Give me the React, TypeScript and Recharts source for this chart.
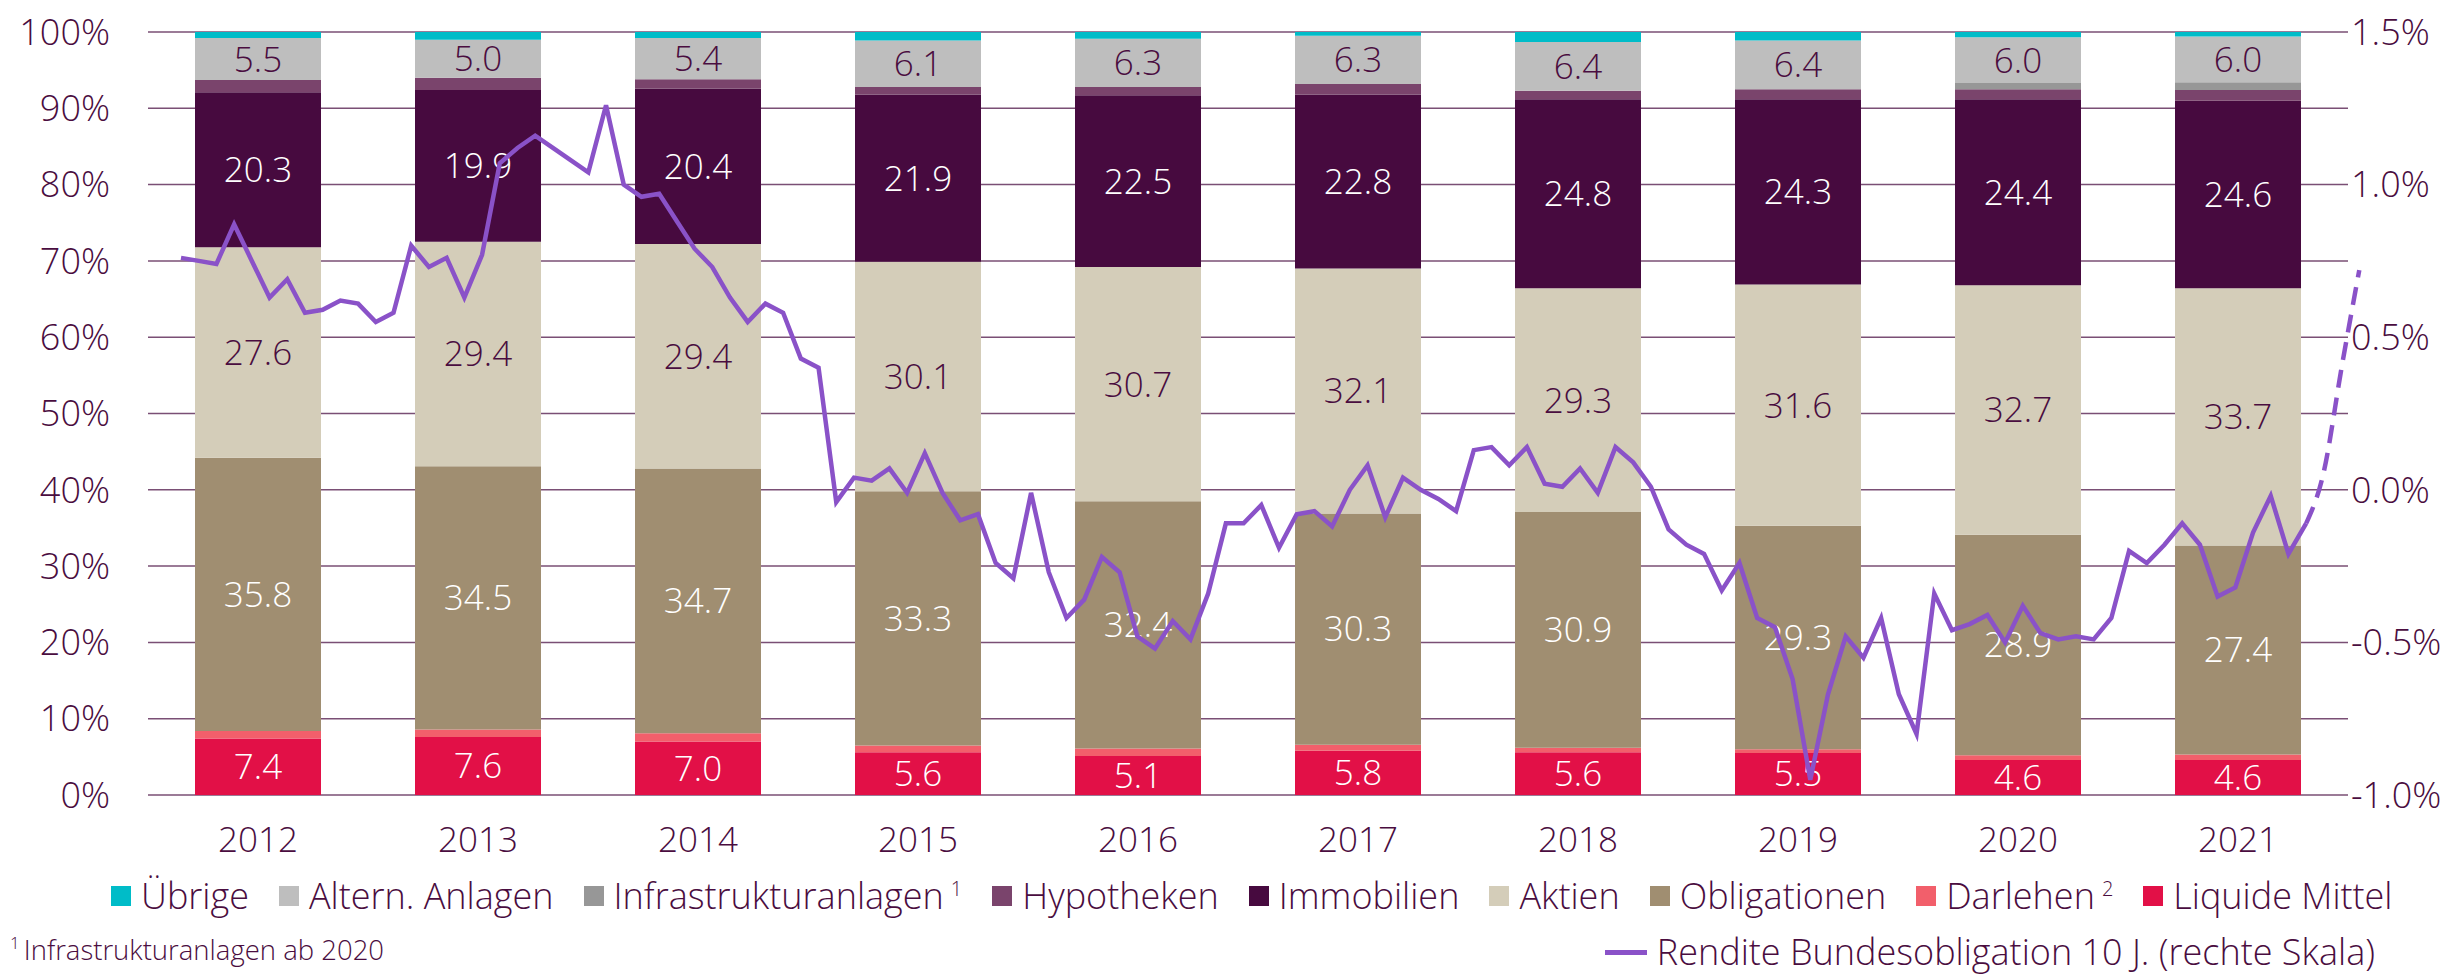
import { BarChart, Bar, XAxis, YAxis, CartesianGrid, LabelList, LineChart, Line } from "recharts"

// Asset allocation in % (stacked bottom to top)
const years = ["2012", "2013", "2014", "2015", "2016", "2017", "2018", "2019", "2020", "2021"]
const liquideMittel = [7.4, 7.6, 7.0, 5.6, 5.1, 5.8, 5.6, 5.5, 4.6, 4.6]
const darlehen = [1.0, 1.0, 1.1, 0.9, 1.0, 0.8, 0.6, 0.5, 0.6, 0.7]
const obligationen = [35.8, 34.5, 34.7, 33.3, 32.4, 30.3, 30.9, 29.3, 28.9, 27.4]
const aktien = [27.6, 29.4, 29.4, 30.1, 30.7, 32.1, 29.3, 31.6, 32.7, 33.7]
const immobilien = [20.3, 19.9, 20.4, 21.9, 22.5, 22.8, 24.8, 24.3, 24.4, 24.6]
const hypotheken = [1.6, 1.6, 1.2, 1.0, 1.1, 1.4, 1.1, 1.3, 1.3, 1.4]
const infrastruktur = [0, 0, 0, 0, 0, 0, 0, 0, 0.8, 1.0]
const alternAnlagen = [5.5, 5.0, 5.4, 6.1, 6.3, 6.3, 6.4, 6.4, 6.0, 6.0]
const uebrige = [0.8, 1.0, 0.8, 1.1, 0.9, 0.5, 1.3, 1.1, 0.7, 0.6]

// Monthly 10y Swiss government bond yield in % (right scale)
const rendite = [
  0.76, 0.75, 0.74, 0.87, 0.75, 0.63, 0.69, 0.58, 0.59, 0.62, 0.61, 0.55,
  0.58, 0.8, 0.73, 0.76, 0.63, 0.77, 1.07, 1.12, 1.16, 1.12, 1.08, 1.04,
  1.26, 1.0, 0.96, 0.97, 0.88, 0.79, 0.73, 0.63, 0.55, 0.61, 0.58, 0.43,
  0.4, -0.04, 0.04, 0.03, 0.07, -0.01, 0.12, -0.01, -0.1, -0.08, -0.24, -0.29,
  -0.01, -0.27, -0.42, -0.36, -0.22, -0.27, -0.48, -0.52, -0.43, -0.49, -0.34, -0.11,
  -0.11, -0.05, -0.19, -0.08, -0.07, -0.12, 0.0, 0.08, -0.09, 0.04, 0.0, -0.03,
  -0.07, 0.13, 0.14, 0.08, 0.14, 0.02, 0.01, 0.07, -0.01, 0.14, 0.09, 0.01,
  -0.13, -0.18, -0.21, -0.33, -0.24, -0.42, -0.45, -0.62, -0.95, -0.67, -0.48, -0.55,
  -0.42, -0.67, -0.8, -0.34, -0.46, -0.44, -0.41, -0.5, -0.38, -0.47, -0.49, -0.48,
  -0.49, -0.42, -0.2, -0.24, -0.18, -0.11, -0.18, -0.35, -0.32, -0.14, -0.02, -0.21,
  -0.11,
]
// dashed continuation, starts at the last solid point
const prognose = [-0.11, 0.06, 0.4, 0.72]

const leftTicks = [0, 10, 20, 30, 40, 50, 60, 70, 80, 90, 100]
const rightTicks = [-1.0, -0.5, 0.0, 0.5, 1.0, 1.5]

const DARK = "#4a0d40"
const LINE = "#8a52c8"
const FONT = "'Open Sans', 'Noto Sans', sans-serif"

const barData = years.map((year, i) => ({
  year,
  liquideMittel: liquideMittel[i],
  darlehen: darlehen[i],
  obligationen: obligationen[i],
  aktien: aktien[i],
  immobilien: immobilien[i],
  hypotheken: hypotheken[i],
  infrastruktur: infrastruktur[i],
  alternAnlagen: alternAnlagen[i],
  uebrige: uebrige[i],
}))

const lastSolid = rendite.length - 1
const lineData = [...rendite, ...prognose.slice(1)].map((v, i) => ({
  idx: i,
  rendite: i <= lastSolid ? v : undefined,
  prognose: i >= lastSolid ? prognose[i - lastSolid] : undefined,
}))

const fmt = (v: any) => Number(v).toFixed(1)

const legendItems = [
  { label: "Übrige", color: "#00bcc8" },
  { label: "Altern. Anlagen", color: "#bebebe" },
  { label: "Infrastrukturanlagen", sup: "1", color: "#979797" },
  { label: "Hypotheken", color: "#7a446c" },
  { label: "Immobilien", color: "#470a3f" },
  { label: "Aktien", color: "#d4cdb9" },
  { label: "Obligationen", color: "#a08e71" },
  { label: "Darlehen", sup: "2", color: "#f25f6b" },
  { label: "Liquide Mittel", color: "#e21047" },
]

export default function App() {
  const labelStyle = { fontSize: 35, fontWeight: 300 }
  return (
    <div style={{ position: "relative", width: 2453, height: 974, background: "#fff", fontFamily: FONT, color: DARK }}>
      <style>{`body{margin:0}`}</style>
      <div style={{ position: "absolute", left: 0, top: 0 }}>
        <BarChart width={2453} height={870} data={barData} margin={{ top: 32, right: 105, bottom: 45, left: 0 }}>
          <CartesianGrid vertical={false} stroke="#7a4f75" strokeWidth={1.5} />
          <XAxis
            dataKey="year"
            axisLine={false}
            tickLine={false}
            tickSize={0}
            tickMargin={32}
            tick={{ fill: DARK, fontSize: 35, fontWeight: 300 }}
          />
          <YAxis
            width={148}
            domain={[0, 100]}
            ticks={leftTicks}
            axisLine={false}
            tickLine={false}
            tickSize={0}
            tickMargin={38}
            tickFormatter={(v) => `${v}%`}
            tick={{ fill: DARK, fontSize: 36, fontWeight: 300 }}
          />
          <Bar dataKey="liquideMittel" stackId="a" fill="#e21047" barSize={126} isAnimationActive={false}>
            <LabelList dataKey="liquideMittel" position="center" fill="#fff" formatter={fmt} style={labelStyle} />
          </Bar>
          <Bar dataKey="darlehen" stackId="a" fill="#f25f6b" barSize={126} isAnimationActive={false} />
          <Bar dataKey="obligationen" stackId="a" fill="#a08e71" barSize={126} isAnimationActive={false}>
            <LabelList dataKey="obligationen" position="center" fill="#fff" formatter={fmt} style={labelStyle} />
          </Bar>
          <Bar dataKey="aktien" stackId="a" fill="#d4cdb9" barSize={126} isAnimationActive={false}>
            <LabelList dataKey="aktien" position="center" fill={DARK} formatter={fmt} style={labelStyle} />
          </Bar>
          <Bar dataKey="immobilien" stackId="a" fill="#470a3f" barSize={126} isAnimationActive={false}>
            <LabelList dataKey="immobilien" position="center" fill="#fff" formatter={fmt} style={labelStyle} />
          </Bar>
          <Bar dataKey="hypotheken" stackId="a" fill="#7a446c" barSize={126} isAnimationActive={false} />
          <Bar dataKey="infrastruktur" stackId="a" fill="#979797" barSize={126} isAnimationActive={false} />
          <Bar dataKey="alternAnlagen" stackId="a" fill="#bebebe" barSize={126} isAnimationActive={false}>
            <LabelList dataKey="alternAnlagen" position="center" fill={DARK} formatter={fmt} style={labelStyle} />
          </Bar>
          <Bar dataKey="uebrige" stackId="a" fill="#00bcc8" barSize={126} isAnimationActive={false} />
        </BarChart>
      </div>

      <div style={{ position: "absolute", left: 0, top: 0 }}>
        <LineChart width={2453} height={870} data={lineData} margin={{ top: 32, right: 16, bottom: 75, left: 181 }}>
          <XAxis dataKey="idx" type="number" domain={[0, 124]} hide />
          <YAxis
            orientation="right"
            width={60}
            domain={[-1, 1.5]}
            ticks={rightTicks}
            axisLine={false}
            tickLine={false}
            tickSize={0}
            tickMargin={0}
            tickFormatter={(v) => `${Number(v).toFixed(1)}%`}
            tick={{ fill: DARK, fontSize: 36, fontWeight: 300, dx: -26 }}
          />
          <Line type="linear" dataKey="rendite" stroke={LINE} strokeWidth={4.5} dot={false} isAnimationActive={false} />
          <Line
            type="monotone"
            dataKey="prognose"
            stroke={LINE}
            strokeWidth={4.5}
            strokeDasharray="18 10"
            dot={false}
            isAnimationActive={false}
          />
        </LineChart>
      </div>

      <div
        style={{
          position: "absolute",
          left: 111,
          top: 876,
          display: "flex",
          alignItems: "center",
          gap: 30,
          fontSize: 36,
          fontWeight: 300,
          lineHeight: "40px",
          whiteSpace: "nowrap",
        }}
      >
        {legendItems.map((it) => (
          <div key={it.label} style={{ display: "flex", alignItems: "center" }}>
            <span style={{ width: 20, height: 20, background: it.color, marginRight: 10, display: "inline-block" }} />
            <span>{it.label}</span>
            {it.sup && <span style={{ fontSize: 20, marginLeft: 7, alignSelf: "flex-start", lineHeight: "26px" }}>{it.sup}</span>}
          </div>
        ))}
      </div>

      <div style={{ position: "absolute", left: 10, top: 931, fontSize: 27.5, fontWeight: 300, whiteSpace: "nowrap" }}>
        <span style={{ fontSize: 17, verticalAlign: "top", marginRight: 4 }}>1</span>Infrastrukturanlagen ab 2020
      </div>

      <div
        style={{
          position: "absolute",
          right: 78,
          top: 932,
          display: "flex",
          alignItems: "center",
          fontSize: 36,
          fontWeight: 300,
          lineHeight: "40px",
          whiteSpace: "nowrap",
        }}
      >
        <span style={{ width: 42, height: 5, background: LINE, marginRight: 10, display: "inline-block" }} />
        <span>Rendite Bundesobligation 10 J. (rechte Skala)</span>
      </div>
    </div>
  )
}
